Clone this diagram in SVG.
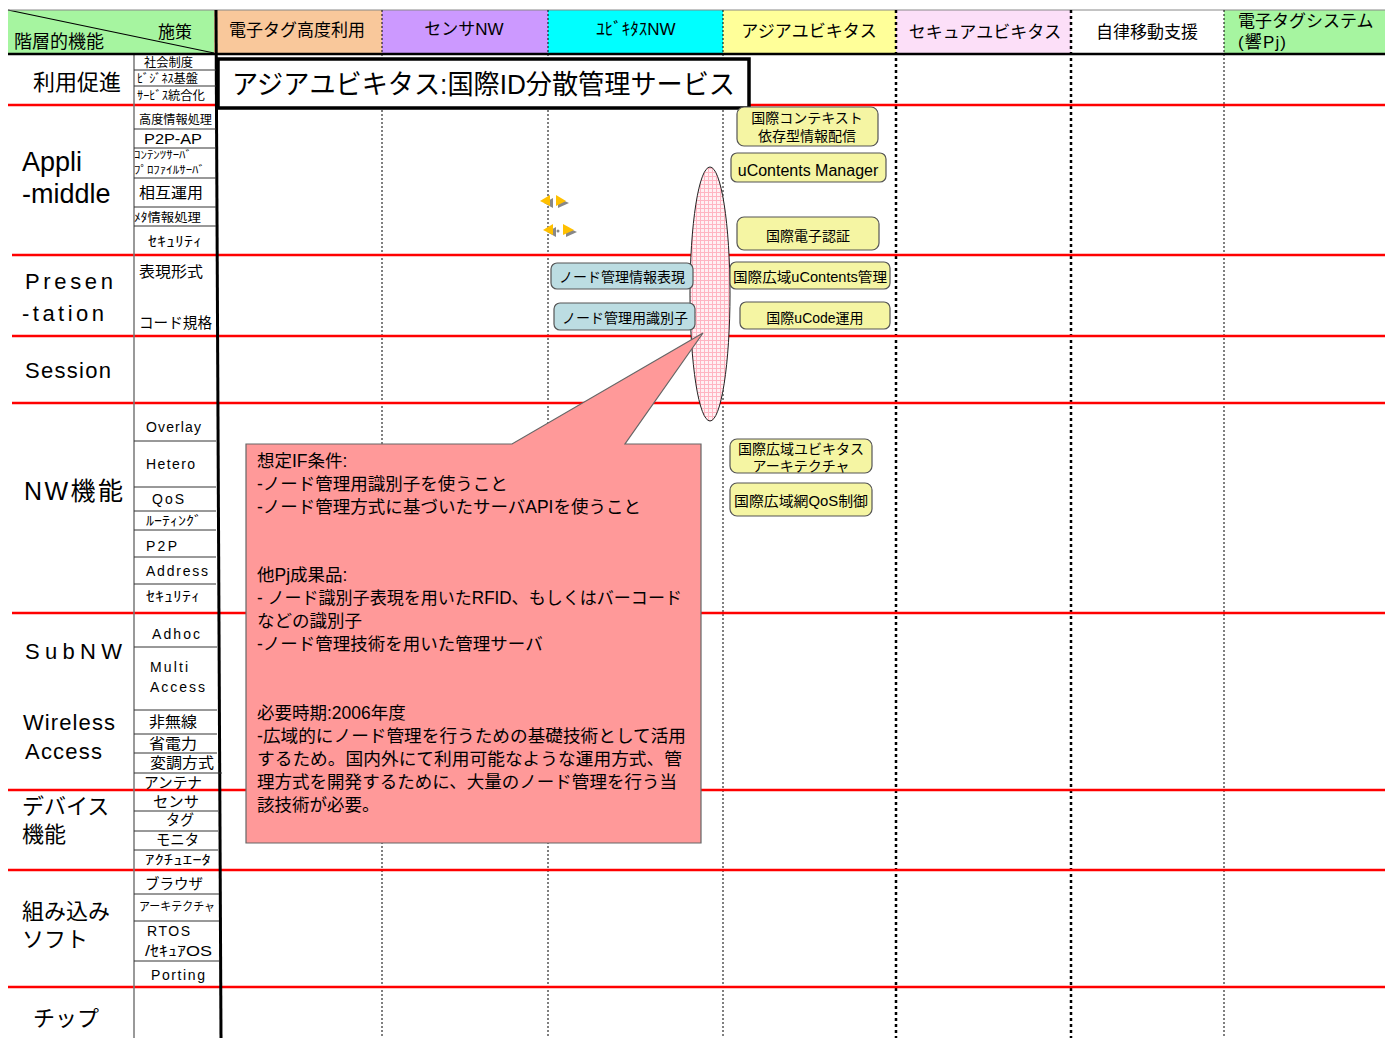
<svg xmlns="http://www.w3.org/2000/svg" width="1390" height="1038" viewBox="0 0 1390 1038">
<style>
text{font-family:"Liberation Sans","Noto Sans CJK JP",sans-serif;fill:#000}
.hd{font-size:17px}
.big{font-size:22px}
.sm{font-size:12px}
.md{font-size:15px}
.bx{font-size:14px;text-anchor:middle}
.co{font-size:17.5px}
.red{stroke:#FF0000;stroke-width:2.5}
.div{stroke:#333;stroke-width:1}
.dt{stroke:#000;stroke-width:1;stroke-dasharray:2,2;fill:none}
.dtk{stroke:#000;stroke-width:2.5;stroke-dasharray:3,3;fill:none}
.yb{fill:#F5F5A3;stroke:#555;stroke-width:1.2}
.bb{fill:#BCDDE2;stroke:#555;stroke-width:1.2}
</style>
<defs>
<pattern id="chk" width="4" height="4" patternUnits="userSpaceOnUse">
<rect width="4" height="4" fill="#FFF0F3"/>
<path d="M0 0.5H4M0.5 0V4" stroke="#FFB5C2" stroke-width="1"/>
</pattern>
</defs>
<rect width="1390" height="1038" fill="#fff"/>

<g id="header">
<rect x="8" y="10" width="206" height="44" fill="#A6F5A0"/>
<line x1="8" y1="10" x2="214" y2="53" stroke="#000" stroke-width="1.2"/>
<text x="14" y="48" style="font-size:18px">階層的機能</text>
<text x="158" y="38" class="hd">施策</text>
<rect x="214" y="10" width="168" height="44" fill="#F9C89B"/>
<rect x="382" y="10" width="166" height="44" fill="#CC99FF"/>
<rect x="548" y="10" width="175" height="44" fill="#00FFFF"/>
<rect x="723" y="10" width="173" height="44" fill="#FFFF99"/>
<rect x="896" y="10" width="175" height="44" fill="#FCDFF8"/>
<rect x="1071" y="10" width="153" height="44" fill="#FFFFFF"/>
<rect x="1224" y="10" width="161" height="44" fill="#A6F5A0"/>
<line x1="8" y1="10" x2="1385" y2="10" stroke="#888" stroke-width="1"/>
<text x="229" y="36" class="hd">電子タグ高度利用</text>
<text x="464" y="35" class="hd" text-anchor="middle">センサNW</text>
<text x="636" y="35" class="hd" text-anchor="middle">ﾕﾋﾞｷﾀｽNW</text>
<text x="809" y="37" class="hd" text-anchor="middle">アジアユビキタス</text>
<text x="985" y="38" class="hd" text-anchor="middle">セキュアユビキタス</text>
<text x="1147" y="38" class="hd" text-anchor="middle">自律移動支援</text>
<text x="1238" y="27" class="hd">電子タグシステム</text>
<text x="1238" y="48" class="hd" textLength="48" lengthAdjust="spacing">(響Pj)</text>
</g>

<g id="grid">
<line x1="382" y1="10" x2="382" y2="1038" class="dt"/>
<line x1="548" y1="10" x2="548" y2="1038" class="dt"/>
<line x1="723" y1="10" x2="723" y2="1038" class="dt"/>
<line x1="896" y1="10" x2="896" y2="1038" class="dtk"/>
<line x1="1071" y1="10" x2="1071" y2="1038" class="dtk"/>
<line x1="1224" y1="10" x2="1224" y2="1038" class="dt"/>
<line x1="8" y1="105" x2="1385" y2="105" class="red"/>
<line x1="12" y1="255" x2="1385" y2="255" class="red"/>
<line x1="12" y1="336" x2="1385" y2="336" class="red"/>
<line x1="12" y1="403" x2="1385" y2="403" class="red"/>
<line x1="12" y1="613" x2="1385" y2="613" class="red"/>
<line x1="8" y1="790" x2="1385" y2="790" class="red"/>
<line x1="8" y1="870" x2="1385" y2="870" class="red"/>
<line x1="8" y1="987" x2="1385" y2="987" class="red"/>
<line x1="134" y1="54" x2="134" y2="1038" stroke="#777" stroke-width="1.5"/>
<line x1="8" y1="54" x2="1385" y2="54" stroke="#000" stroke-width="2.5"/>
<line x1="216" y1="10" x2="221" y2="1038" stroke="#000" stroke-width="3"/>
<g class="div">
<line x1="134" y1="70" x2="216" y2="70"/><line x1="134" y1="86" x2="216" y2="86"/>
<line x1="134" y1="129" x2="216" y2="129"/><line x1="134" y1="148" x2="216" y2="148"/>
<line x1="134" y1="178" x2="216" y2="178"/><line x1="134" y1="207" x2="216" y2="207"/>
<line x1="134" y1="226" x2="216" y2="226"/>
<line x1="134" y1="441" x2="216" y2="441"/><line x1="134" y1="487" x2="216" y2="487"/>
<line x1="134" y1="511" x2="216" y2="511"/><line x1="134" y1="530" x2="216" y2="530"/>
<line x1="134" y1="557" x2="216" y2="557"/><line x1="134" y1="584" x2="216" y2="584"/>
<line x1="134" y1="647" x2="217" y2="647"/><line x1="134" y1="710" x2="217" y2="710"/>
<line x1="134" y1="734" x2="217" y2="734"/><line x1="134" y1="753" x2="217" y2="753"/>
<line x1="134" y1="773" x2="222" y2="773"/>
<line x1="134" y1="811" x2="218" y2="811"/><line x1="134" y1="831" x2="218" y2="831"/>
<line x1="134" y1="850" x2="218" y2="850"/>
<line x1="134" y1="894" x2="219" y2="894"/><line x1="134" y1="921" x2="219" y2="921"/>
<line x1="134" y1="961" x2="219" y2="961"/>
</g>
</g>

<g id="layers">
<text x="33" y="90" class="big">利用促進</text>
<text x="22" y="171" style="font-size:27px">Appli</text>
<text x="22" y="203" style="font-size:27px">-middle</text>
<text x="25" y="289" class="big" textLength="88" lengthAdjust="spacing">Presen</text>
<text x="22" y="321" class="big" textLength="82" lengthAdjust="spacing">-tation</text>
<text x="25" y="378" class="big" textLength="86" lengthAdjust="spacing">Session</text>
<text x="24" y="500" style="font-size:25px" textLength="99" lengthAdjust="spacing">NW機能</text>
<text x="25" y="659" class="big" textLength="97" lengthAdjust="spacing">SubNW</text>
<text x="23" y="730" class="big" textLength="92" lengthAdjust="spacing">Wireless</text>
<text x="25" y="759" class="big" textLength="77" lengthAdjust="spacing">Access</text>
<text x="22" y="814" class="big">デバイス</text>
<text x="22" y="842" class="big">機能</text>
<text x="22" y="919" class="big">組み込み</text>
<text x="22" y="947" class="big">ソフト</text>
<text x="33" y="1026" class="big">チップ</text>
</g>

<g id="sublabels">
<text x="144" y="67" class="sm" textLength="49" lengthAdjust="spacingAndGlyphs">社会制度</text>
<text x="137" y="83" class="sm" textLength="61" lengthAdjust="spacingAndGlyphs">ﾋﾞｼﾞﾈｽ基盤</text>
<text x="137" y="100" class="sm" textLength="68" lengthAdjust="spacingAndGlyphs">ｻｰﾋﾞｽ統合化</text>
<text x="139" y="124" class="sm" textLength="73" lengthAdjust="spacingAndGlyphs">高度情報処理</text>
<text x="144" y="144" class="md" textLength="58" lengthAdjust="spacingAndGlyphs">P2P-AP</text>
<text x="134" y="159" style="font-size:11px" textLength="58" lengthAdjust="spacingAndGlyphs">ｺﾝﾃﾝﾂｻｰﾊﾞ</text>
<text x="134" y="174" style="font-size:11px" textLength="71" lengthAdjust="spacingAndGlyphs">ﾌﾟﾛﾌｧｲﾙｻｰﾊﾞ</text>
<text x="139" y="198" class="md" textLength="64" lengthAdjust="spacingAndGlyphs">相互運用</text>
<text x="134" y="222" class="sm" textLength="67" lengthAdjust="spacingAndGlyphs">ﾒﾀ情報処理</text>
<text x="148" y="246" style="font-size:14px" textLength="54" lengthAdjust="spacingAndGlyphs">ｾｷｭﾘﾃｨ</text>
<text x="139" y="277" class="md" textLength="64" lengthAdjust="spacingAndGlyphs">表現形式</text>
<text x="139" y="328" class="md" textLength="73" lengthAdjust="spacingAndGlyphs">コード規格</text>
<text x="146" y="432" style="font-size:14px" textLength="55" lengthAdjust="spacing">Overlay</text>
<text x="146" y="469" style="font-size:14px" textLength="49" lengthAdjust="spacing">Hetero</text>
<text x="152" y="504" style="font-size:14px" textLength="32" lengthAdjust="spacing">QoS</text>
<text x="146" y="525" style="font-size:13px" textLength="56" lengthAdjust="spacingAndGlyphs">ﾙｰﾃｨﾝｸﾞ</text>
<text x="146" y="551" style="font-size:14px" textLength="31" lengthAdjust="spacing">P2P</text>
<text x="146" y="576" style="font-size:14px" textLength="62" lengthAdjust="spacing">Address</text>
<text x="146" y="601" style="font-size:14px" textLength="54" lengthAdjust="spacingAndGlyphs">ｾｷｭﾘﾃｨ</text>
<text x="152" y="639" style="font-size:14px" textLength="48" lengthAdjust="spacing">Adhoc</text>
<text x="150" y="672" style="font-size:14px" textLength="38" lengthAdjust="spacing">Multi</text>
<text x="150" y="692" style="font-size:14px" textLength="55" lengthAdjust="spacing">Access</text>
<text x="149" y="727" class="md" textLength="48" lengthAdjust="spacingAndGlyphs">非無線</text>
<text x="149" y="749" class="md" textLength="48" lengthAdjust="spacingAndGlyphs">省電力</text>
<text x="150" y="768" class="md" textLength="64" lengthAdjust="spacingAndGlyphs">変調方式</text>
<text x="144" y="788" class="md" textLength="58" lengthAdjust="spacingAndGlyphs">アンテナ</text>
<text x="153" y="807" class="md" textLength="46" lengthAdjust="spacingAndGlyphs">センサ</text>
<text x="166" y="825" class="md" textLength="28" lengthAdjust="spacingAndGlyphs">タグ</text>
<text x="156" y="845" class="md" textLength="43" lengthAdjust="spacingAndGlyphs">モニタ</text>
<text x="145" y="864" style="font-size:13px" textLength="66" lengthAdjust="spacingAndGlyphs">ｱｸﾁｭｴｰﾀ</text>
<text x="145" y="889" class="md" textLength="58" lengthAdjust="spacingAndGlyphs">ブラウザ</text>
<text x="139" y="911" class="sm" textLength="76" lengthAdjust="spacingAndGlyphs">アーキテクチャ</text>
<text x="147" y="936" style="font-size:14px" textLength="43" lengthAdjust="spacing">RTOS</text>
<text x="145" y="956" class="md" textLength="67" lengthAdjust="spacingAndGlyphs">/ｾｷｭｱOS</text>
<text x="151" y="980" style="font-size:14px" textLength="54" lengthAdjust="spacing">Porting</text>
</g>

<g id="title">
<rect x="218" y="59" width="531" height="49" fill="#fff" stroke="#000" stroke-width="3.5"/>
<text x="232" y="94" style="font-size:27px" textLength="503" lengthAdjust="spacingAndGlyphs">アジアユビキタス:国際ID分散管理サービス</text>
</g>

<g id="icons">
<polygon points="544,203 553,198 553,208" fill="#888"/>
<polygon points="558,198 569,203 558,208" fill="#888"/>
<polygon points="540,201 550,195 550,206" fill="#FFC000"/>
<polygon points="556,195 566,201 556,206" fill="#FFC000"/>
<polygon points="547,232 556,227 556,237" fill="#888"/>
<polygon points="566,227 577,232 566,237" fill="#888"/>
<polygon points="543,230 553,224 553,235" fill="#FFC000"/>
<polygon points="563,224 574,230 563,235" fill="#FFC000"/>
<circle cx="558" cy="231" r="1.5" fill="#888"/>
</g>

<g id="ellipse">
<ellipse cx="710" cy="294" rx="20" ry="127" fill="url(#chk)" stroke="#222" stroke-width="1"/>
</g>

<g id="n1"><rect x="737" y="107" width="141" height="39" rx="7" class="yb"/><text x="807" y="123" class="bx">国際コンテキスト</text><text x="807" y="141" class="bx">依存型情報配信</text></g>
<g id="n2"><rect x="731" y="153" width="155" height="29" rx="6" class="yb"/><text x="808" y="176" style="font-size:16px;text-anchor:middle">uContents Manager</text></g>
<g id="n3"><rect x="737" y="217" width="142" height="33" rx="7" class="yb"/><text x="808" y="241" class="bx">国際電子認証</text></g>
<g id="n4"><rect x="730" y="262" width="160" height="27" rx="6" class="yb"/><text x="810" y="282" class="bx" textLength="154" lengthAdjust="spacingAndGlyphs">国際広域uContents管理</text></g>
<g id="n5"><rect x="740" y="302" width="150" height="27" rx="6" class="yb"/><text x="815" y="323" class="bx">国際uCode運用</text></g>
<g id="n6"><rect x="730" y="439" width="142" height="34" rx="7" class="yb"/><text x="801" y="454" class="bx">国際広域ユビキタス</text><text x="801" y="471" class="bx">アーキテクチャ</text></g>
<g id="n7"><rect x="730" y="483" width="142" height="33" rx="7" class="yb"/><text x="801" y="506" class="bx" textLength="134" lengthAdjust="spacingAndGlyphs">国際広域網QoS制御</text></g>
<g id="n8"><rect x="551" y="263" width="142" height="26" rx="6" class="bb"/><text x="622" y="282" class="bx">ノード管理情報表現</text></g>
<g id="n9"><rect x="554" y="303" width="141" height="27" rx="6" class="bb"/><text x="625" y="323" class="bx">ノード管理用識別子</text></g>

<g id="callout">
<path d="M246 444 H512 L703 333 L625 444 H701 V843 H246 Z" fill="#FF9999" stroke="#666" stroke-width="1.2"/>
<text class="co" x="257" y="467">想定IF条件:</text>
<text class="co" x="257" y="490">-ノード管理用識別子を使うこと</text>
<text class="co" x="257" y="513" textLength="384" lengthAdjust="spacingAndGlyphs">-ノード管理方式に基づいたサーバAPIを使うこと</text>
<text class="co" x="257" y="581">他Pj成果品:</text>
<text class="co" x="257" y="604" textLength="425" lengthAdjust="spacingAndGlyphs">- ノード識別子表現を用いたRFID、もしくはバーコード</text>
<text class="co" x="257" y="627">などの識別子</text>
<text class="co" x="257" y="650">-ノード管理技術を用いた管理サーバ</text>
<text class="co" x="257" y="719">必要時期:2006年度</text>
<text class="co" x="257" y="742" textLength="429" lengthAdjust="spacingAndGlyphs">-広域的にノード管理を行うための基礎技術として活用</text>
<text class="co" x="257" y="765" textLength="425" lengthAdjust="spacingAndGlyphs">するため。国内外にて利用可能なような運用方式、管</text>
<text class="co" x="257" y="788" textLength="420" lengthAdjust="spacingAndGlyphs">理方式を開発するために、大量のノード管理を行う当</text>
<text class="co" x="257" y="811">該技術が必要。</text>
</g>
</svg>
